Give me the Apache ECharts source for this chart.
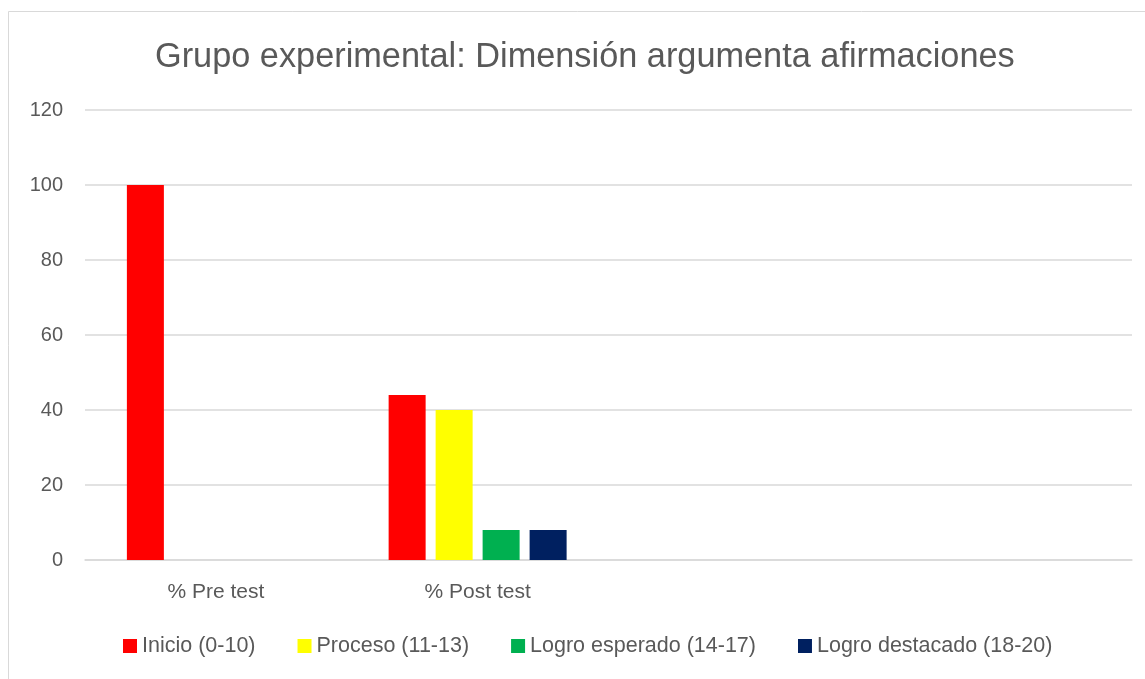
<!DOCTYPE html>
<html>
<head>
<meta charset="utf-8">
<script src="https://cdn.jsdelivr.net/npm/echarts@6/dist/echarts.min.js"></script>
<style>
html, body { margin: 0; padding: 0; background: #fff; }
#chart { width: 1145px; height: 679px; }
</style>
</head>
<body>
<div id="chart"></div>
<script>
var categories = ['% Pre test', '% Post test', '', ''];
var inicio = [100, 44, null, null];      // Inicio (0-10)
var proceso = [0, 40, null, null];       // Proceso (11-13)
var esperado = [0, 8, null, null];       // Logro esperado (14-17)
var destacado = [0, 8, null, null];      // Logro destacado (18-20)
var seriesNames = ['Inicio (0-10)', 'Proceso (11-13)', 'Logro esperado (14-17)', 'Logro destacado (18-20)'];
var colors = ['#FF0000', '#FFFF00', '#00B050', '#002060'];

var font = 'Liberation Sans';
var chart = echarts.init(document.getElementById('chart'));

function bar(name, data, color) {
  return {
    name: name,
    type: 'bar',
    data: data,
    barGap: '27%',
    barCategoryGap: '32%',
    itemStyle: { color: color }
  };
}

chart.setOption({
  backgroundColor: '#fff',
  animation: false,
  color: colors,
  graphic: [{
    type: 'rect',
    shape: { x: 8.5, y: 11.5, width: 1200, height: 700 },
    style: { fill: 'none', stroke: '#d9d9d9', lineWidth: 1 },
    silent: true
  }],
  title: {
    text: 'Grupo experimental: Dimensión argumenta afirmaciones',
    left: 150,
    top: 36,
    textStyle: { fontFamily: font, fontSize: 34.3, fontWeight: 'normal', color: '#595959' }
  },
  legend: {
    bottom: 17,
    left: 118,
    itemWidth: 14,
    itemHeight: 14,
    itemGap: 42,
    icon: 'rect',
    textStyle: { fontFamily: font, fontSize: 21.5, color: '#595959' },
    data: seriesNames
  },
  grid: { left: 85, right: 13, top: 110, bottom: 119 },
  xAxis: {
    type: 'category',
    data: categories,
    axisTick: { show: false },
    axisLine: { lineStyle: { color: '#d9d9d9', width: 1.5 } },
    axisLabel: { margin: 22, fontFamily: font, fontSize: 21, color: '#595959' }
  },
  yAxis: {
    type: 'value',
    min: 0,
    max: 120,
    interval: 20,
    axisLine: { show: false },
    axisTick: { show: false },
    splitLine: { lineStyle: { color: '#d9d9d9', width: 1.5 } },
    axisLabel: { margin: 22, fontFamily: font, fontSize: 20, color: '#595959' }
  },
  series: [
    bar(seriesNames[0], inicio, colors[0]),
    bar(seriesNames[1], proceso, colors[1]),
    bar(seriesNames[2], esperado, colors[2]),
    bar(seriesNames[3], destacado, colors[3])
  ]
});
</script>
</body>
</html>
